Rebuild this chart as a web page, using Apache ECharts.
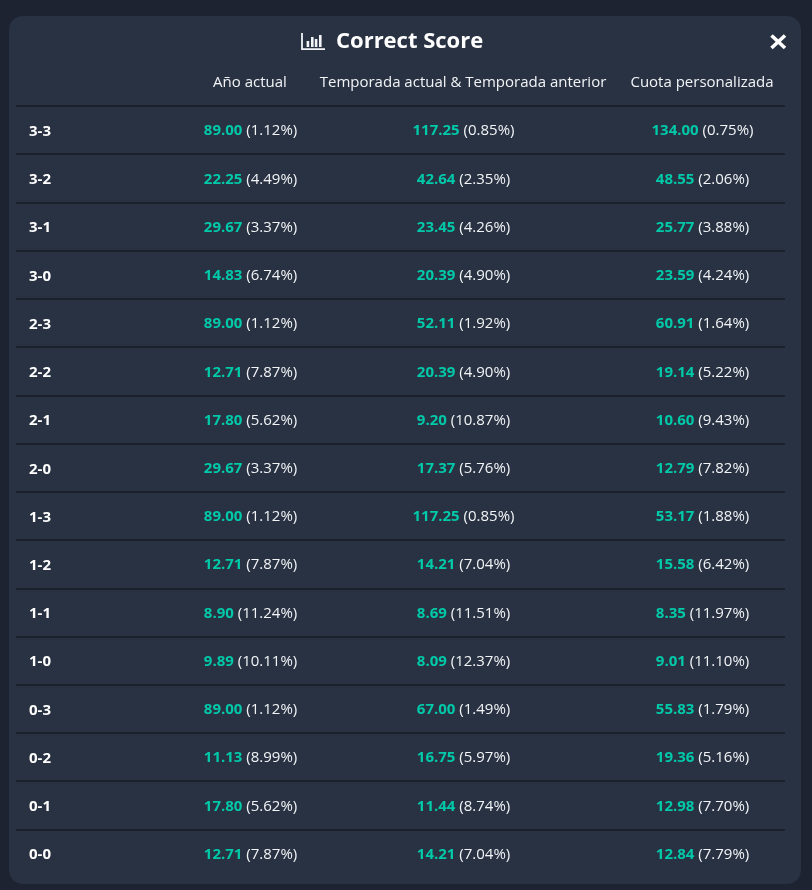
<!DOCTYPE html>
<html>

<head>
    <meta charset="utf-8">
    <title>Correct Score</title>
    <style>
        html, body { margin: 0; padding: 0; background: #1d2331; overflow: hidden; }
        #main { width: 812px; height: 890px; }
    </style>
</head>

<body>
    <div id="main"></div>
    <script src="https://cdn.jsdelivr.net/npm/echarts@6/dist/echarts.min.js"></script>
    <script>
    var scores = ['3-3', '3-2', '3-1', '3-0', '2-3', '2-2', '2-1', '2-0', '1-3', '1-2', '1-1', '1-0', '0-3', '0-2', '0-1', '0-0'];
    var columns = ['Año actual', 'Temporada actual & Temporada anterior', 'Cuota personalizada'];

    var oddsYear = ['89.00', '22.25', '29.67', '14.83', '89.00', '12.71', '17.80', '29.67', '89.00', '12.71', '8.90', '9.89', '89.00', '11.13', '17.80', '12.71'];
    var pctYear = ['1.12', '4.49', '3.37', '6.74', '1.12', '7.87', '5.62', '3.37', '1.12', '7.87', '11.24', '10.11', '1.12', '8.99', '5.62', '7.87'];
    var oddsSeason = ['117.25', '42.64', '23.45', '20.39', '52.11', '20.39', '9.20', '17.37', '117.25', '14.21', '8.69', '8.09', '67.00', '16.75', '11.44', '14.21'];
    var pctSeason = ['0.85', '2.35', '4.26', '4.90', '1.92', '4.90', '10.87', '5.76', '0.85', '7.04', '11.51', '12.37', '1.49', '5.97', '8.74', '7.04'];
    var oddsCustom = ['134.00', '48.55', '25.77', '23.59', '60.91', '19.14', '10.60', '12.79', '53.17', '15.58', '8.35', '9.01', '55.83', '19.36', '12.98', '12.84'];
    var pctCustom = ['0.75', '2.06', '3.88', '4.24', '1.64', '5.22', '9.43', '7.82', '1.88', '6.42', '11.97', '11.10', '1.79', '5.16', '7.70', '7.79'];

    var FONT = '"Open Sans", sans-serif';
    var LINE = '#1b212c';
    var TEXT = '#f2f4f7';

    // one grid per table column, they sit side by side so the row lines join up
    var gridEdges = [[16, 193], [193, 307], [307, 619], [619, 785]];
    var grids = [], xAxes = [], yAxes = [], series = [];

    gridEdges.forEach(function(edge, i) {
        grids.push({ left: edge[0], width: edge[1] - edge[0], top: 106, height: 771.7 });
        xAxes.push({
            gridIndex: i,
            type: 'category',
            position: 'top',
            data: i === 0 ? [''] : [columns[i - 1]],
            axisLine: { show: false },
            axisTick: { show: false },
            splitLine: { show: false },
            axisLabel: {
                show: i > 0,
                interval: 0,
                margin: 16,
                color: TEXT,
                fontFamily: FONT,
                fontSize: 15
            }
        });
        yAxes.push({
            gridIndex: i,
            type: 'category',
            inverse: true,
            data: scores,
            axisLine: { show: false },
            axisTick: { show: false },
            splitLine: {
                show: true,
                interval: 0,
                showMinLine: true,
                showMaxLine: false,
                lineStyle: { color: LINE, width: 2 }
            },
            axisLabel: {
                show: i === 0,
                interval: 0,
                inside: true,
                margin: 13,
                formatter: '{s|{value}}',
                rich: {
                    s: {
                        padding: [3, 0, 0, 0],
                        color: '#ffffff',
                        fontFamily: FONT,
                        fontSize: 15,
                        fontWeight: 'bold'
                    }
                }
            }
        });
    });

    [[oddsYear, pctYear], [oddsSeason, pctSeason], [oddsCustom, pctCustom]].forEach(function(col, k) {
        series.push({
            type: 'scatter',
            xAxisIndex: k + 1,
            yAxisIndex: k + 1,
            symbolSize: 0,
            silent: true,
            itemStyle: { opacity: 1 },
            data: scores.map(function(s, i) {
                return [columns[k], s, col[0][i], col[1][i]];
            }),
            label: {
                show: true,
                position: 'inside',
                offset: [0.5, 1],
                opacity: 1,
                formatter: function(p) {
                    return '{odds|' + p.value[2] + '}{pct| (' + p.value[3] + '%)}';
                },
                rich: {
                    odds: { color: '#00c9a9', fontFamily: FONT, fontSize: 15, fontWeight: 'bold' },
                    pct: { color: TEXT, fontFamily: FONT, fontSize: 15 }
                }
            }
        });
    });

    // title icon: axis corner plus four small bars
    var iconBars = [[306.6, 41, 6], [311, 37, 10], [314.8, 39, 8], [319, 35, 12]];
    var graphics = [
        {
            type: 'rect',
            z: -10,
            shape: { x: 9, y: 16, width: 792, height: 868, r: 14 },
            style: { fill: '#293242' }
        },
        {
            type: 'polyline',
            z: 10,
            shape: { points: [[302, 33], [302, 49.2], [325, 49.2]] },
            style: { stroke: TEXT, lineWidth: 1.8, fill: null }
        },
        {
            type: 'line',
            z: 10,
            shape: { x1: 771.5, y1: 35.5, x2: 785, y2: 48 },
            style: { stroke: '#ffffff', lineWidth: 3.6 }
        },
        {
            type: 'line',
            z: 10,
            shape: { x1: 785, y1: 35.5, x2: 771.5, y2: 48 },
            style: { stroke: '#ffffff', lineWidth: 3.6 }
        }
    ];
    iconBars.forEach(function(b) {
        graphics.push({
            type: 'rect',
            z: 10,
            shape: { x: b[0], y: b[1], width: 2.6, height: b[2] },
            style: { fill: TEXT }
        });
    });

    var myEcharts = echarts.init(document.getElementById('main'));
    myEcharts.setOption({
        animation: false,
        backgroundColor: '#1d2331',
        title: {
            text: 'Correct Score',
            left: 331,
            top: 26,
            textStyle: { color: '#ffffff', fontFamily: FONT, fontSize: 22, fontWeight: 'bold' }
        },
        graphic: graphics,
        grid: grids,
        xAxis: xAxes,
        yAxis: yAxes,
        series: series
    });
    </script>
</body>

</html>
